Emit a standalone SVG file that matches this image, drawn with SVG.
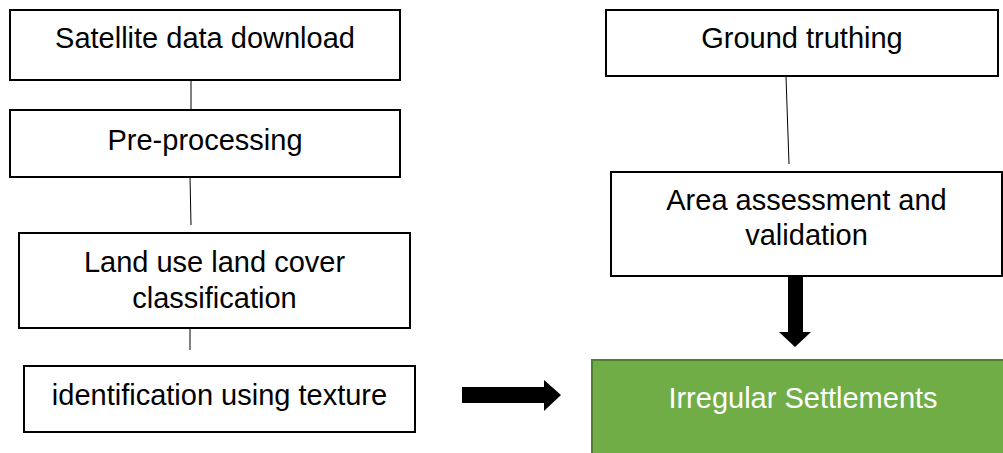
<svg xmlns="http://www.w3.org/2000/svg" width="1003" height="453" viewBox="0 0 1003 453">
<style>
.box{fill:#fff;stroke:#000;stroke-width:2}
.t{font-family:"Liberation Sans",Arial,sans-serif;font-size:29px;fill:#000;text-anchor:middle}
.w{fill:#fff}
.con{stroke:#000;stroke-width:1;fill:none}
.arr{fill:#000}
</style>
<rect width="1003" height="453" fill="#fff"/>
<g id="connectors">
<line class="con" x1="191" y1="80" x2="191" y2="110"/>
<line class="con" x1="190" y1="176" x2="191" y2="225"/>
<line class="con" x1="190" y1="320" x2="190" y2="350"/>
<line class="con" x1="786" y1="77" x2="789" y2="164"/>
<polygon class="arr" points="788,265 803,265 803,332 811,332 795,347 779,332 788,332"/>
<polygon class="arr" points="462,387 544,387 544,380 561,395 544,411 544,403 462,403"/>
</g>
<g id="n1"><rect class="box" x="10" y="10" width="390" height="70"/><text class="t" x="205" y="48">Satellite data download</text></g>
<g id="n2"><rect class="box" x="10" y="110" width="390" height="67"/><text class="t" x="205" y="150">Pre-processing</text></g>
<g id="n3"><rect class="box" x="19" y="233" width="391" height="95"/><text class="t" x="214.5" y="272">Land use land cover</text><text class="t" x="214.5" y="308">classification</text></g>
<g id="n4"><rect class="box" x="24" y="366" width="391" height="66"/><text class="t" x="219.5" y="405">identification using texture</text></g>
<g id="n5"><rect class="box" x="606" y="10" width="392" height="66"/><text class="t" x="802" y="48">Ground truthing</text></g>
<g id="n6"><rect class="box" x="611" y="172" width="391" height="104"/><text class="t" x="806.5" y="210">Area assessment and</text><text class="t" x="806.5" y="245">validation</text></g>
<g id="n7"><rect x="592" y="360" width="422" height="100" fill="#70AD47" stroke="#507E32" stroke-width="2"/><text class="t w" x="803" y="408">Irregular Settlements</text></g>
</svg>
